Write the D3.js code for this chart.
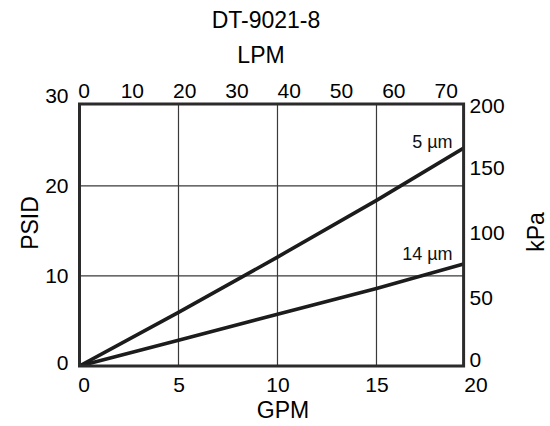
<!DOCTYPE html>
<html>
<head>
<meta charset="utf-8">
<script src="https://cdn.jsdelivr.net/npm/d3@7/dist/d3.min.js"></script>
<style>
  html, body { margin: 0; padding: 0; background: #fff; }
  svg { display: block; font-family: "Liberation Sans", Arial, sans-serif; }
</style>
</head>
<body>
<svg id="chart" width="550" height="426"></svg>
<script>
// Pressure drop vs. flow for the DT-9021-8 element
const chartTitle = "DT-9021-8";
const flowGpm = [0, 5, 10, 15, 20];
const dp5um = [0, 5.95, 12.1, 18.4, 25.0];
const dp14um = [0, 2.85, 5.75, 8.6, 11.7];
const seriesNames = ["5 µm", "14 µm"];

const gpmTicks = [0, 5, 10, 15, 20];
const lpmTicks = [0, 10, 20, 30, 40, 50, 60, 70];
const psidTicks = [0, 10, 20, 30];
const kpaTicks = [0, 50, 100, 150, 200];

// extent of the framed plot area in data units
const gpmMax = 19.4;
const psidMax = 29.1;

const LPM_PER_GPM = 3.785;
const KPA_PER_PSI = 6.895;

const svg = d3.select("#chart");
const frame = { left: 79.5, right: 463.6, top: 104, bottom: 366 };

const x = d3.scaleLinear().domain([0, gpmMax]).range([frame.left, frame.right]);
const y = d3.scaleLinear().domain([0, psidMax]).range([frame.bottom, frame.top]);
const xLpm = d3.scaleLinear().domain(x.domain().map(d => d * LPM_PER_GPM)).range(x.range());
const yKpa = d3.scaleLinear().domain(y.domain().map(d => d * KPA_PER_PSI)).range(y.range());

// grid
const grid = svg.append("g").attr("stroke", "#3a3a3a").attr("stroke-width", 1.2);
grid.selectAll("line.v").data(gpmTicks.filter(d => d > 0 && d < gpmMax)).join("line")
  .attr("x1", d => x(d)).attr("x2", d => x(d))
  .attr("y1", frame.top).attr("y2", frame.bottom);
grid.selectAll("line.h").data(psidTicks.filter(d => d > 0 && d < psidMax)).join("line")
  .attr("y1", d => y(d)).attr("y2", d => y(d))
  .attr("x1", frame.left).attr("x2", frame.right);

// curves, clipped to the frame
svg.append("clipPath").attr("id", "plotClip").append("rect")
  .attr("x", frame.left).attr("y", frame.top)
  .attr("width", frame.right - frame.left).attr("height", frame.bottom - frame.top);

const line = d3.line().x(d => x(d[0])).y(d => y(d[1]));
const series = [dp5um, dp14um].map((vals, i) => ({
  name: seriesNames[i],
  points: flowGpm.map((g, j) => [g, vals[j]]),
  atEdge: d3.scaleLinear().domain(flowGpm).range(vals)(gpmMax)
}));

svg.append("g").attr("clip-path", "url(#plotClip)")
  .selectAll("path").data(series).join("path")
  .attr("d", d => line(d.points))
  .attr("fill", "none")
  .attr("stroke", "#1c1c1c")
  .attr("stroke-width", 3.6)
  .attr("stroke-linecap", "round");

// frame
svg.append("rect")
  .attr("x", frame.left).attr("y", frame.top)
  .attr("width", frame.right - frame.left).attr("height", frame.bottom - frame.top)
  .attr("fill", "none").attr("stroke", "#2b2b2b").attr("stroke-width", 3);

// series labels
svg.selectAll("text.series").data(series).join("text")
  .attr("class", "series")
  .attr("x", x(gpmMax) - 11)
  .attr("y", (d, i) => y(d.atEdge) - (i === 0 ? 0 : 4))
  .attr("text-anchor", "end")
  .attr("font-size", 18)
  .attr("fill", "#111")
  .text(d => d.name);

// axes (labels only, no tick marks)
function styleAxis(g) {
  g.select(".domain").remove();
  g.selectAll(".tick line").remove();
  g.selectAll(".tick text").attr("fill", "#000").attr("font-size", 21)
    .attr("font-family", "'Liberation Sans', Arial, sans-serif");
}

// the zero labels sit slightly inside the corners
svg.append("g").attr("transform", `translate(0,${frame.bottom})`)
  .call(d3.axisBottom(x).tickValues(gpmTicks).tickSize(0).tickPadding(11).tickFormat(d3.format("d")))
  .call(styleAxis)
  .selectAll(".tick text").attr("dx", d => d === 0 ? 4 : 0);

svg.append("g").attr("transform", `translate(0,${frame.top})`)
  .call(d3.axisTop(xLpm).tickValues(lpmTicks).tickSize(0).tickPadding(6).tickFormat(d3.format("d")))
  .call(styleAxis)
  .selectAll(".tick text").attr("dx", d => d === 0 ? 4 : 0);

svg.append("g").attr("transform", `translate(${frame.left},0)`)
  .call(d3.axisLeft(y).tickValues(psidTicks).tickSize(0).tickPadding(11).tickFormat(d3.format("d")))
  .call(styleAxis)
  .selectAll(".tick text").attr("dy", d => d === 0 ? "0.18em" : "0.32em");

svg.append("g").attr("transform", `translate(${frame.right},0)`)
  .call(d3.axisRight(yKpa).tickValues(kpaTicks).tickSize(0).tickPadding(6).tickFormat(d3.format("d")))
  .call(styleAxis)
  .selectAll(".tick text").attr("dy", d => d === 0 ? "0.04em" : d === 200 ? "0.38em" : "0.2em");

// titles
const titles = svg.append("g").attr("font-size", 23).attr("fill", "#000");
titles.append("text").attr("x", 266).attr("y", 28).attr("text-anchor", "middle").text(chartTitle);
titles.append("text").attr("x", 261).attr("y", 63).attr("text-anchor", "middle").text("LPM");
titles.append("text").attr("x", 283).attr("y", 418).attr("text-anchor", "middle").text("GPM");
titles.append("text").attr("transform", "translate(38,223) rotate(-90)")
  .attr("text-anchor", "middle").text("PSID");
titles.append("text").attr("transform", "translate(544,232) rotate(-90)")
  .attr("text-anchor", "middle").text("kPa");
</script>
</body>
</html>
